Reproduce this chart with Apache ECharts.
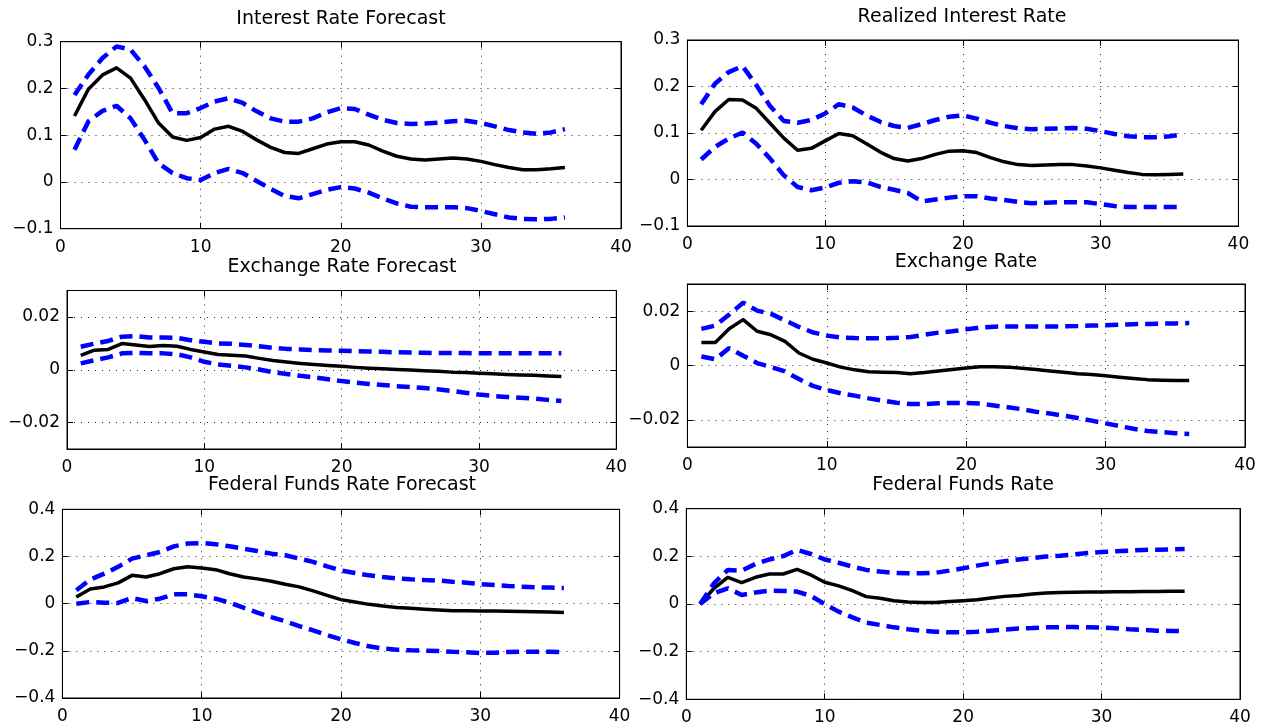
<!DOCTYPE html>
<html>
<head>
<meta charset="utf-8">
<script src="https://cdn.jsdelivr.net/npm/echarts@6/dist/echarts.min.js"></script>
<style>
html,body{margin:0;padding:0;background:#fff;}
#chart{width:1273px;height:728px;}
</style>
</head>
<body>
<div id="chart"></div>
<script>
// ---- data ----
const horizon = [1,2,3,4,5,6,7,8,9,10,11,12,13,14,15,16,17,18,19,20,21,22,23,24,25,26,27,28,29,30,31,32,33,34,35,36];

const titles = ["Interest Rate Forecast","Realized Interest Rate","Exchange Rate Forecast","Exchange Rate","Federal Funds Rate Forecast","Federal Funds Rate"];

const irfMean = [0.141,0.199,0.229,0.244,0.222,0.176,0.126,0.096,0.089,0.095,0.113,0.119,0.108,0.090,0.074,0.063,0.061,0.071,0.081,0.086,0.086,0.079,0.066,0.055,0.049,0.047,0.049,0.051,0.049,0.044,0.037,0.031,0.026,0.026,0.028,0.031];
const irfUp   = [0.186,0.230,0.265,0.290,0.283,0.247,0.201,0.147,0.147,0.158,0.172,0.179,0.169,0.151,0.136,0.129,0.129,0.136,0.149,0.158,0.156,0.144,0.133,0.126,0.124,0.125,0.127,0.130,0.131,0.126,0.119,0.111,0.106,0.103,0.106,0.113];
const irfLo   = [0.069,0.130,0.152,0.163,0.136,0.090,0.040,0.019,0.008,0.004,0.019,0.028,0.019,0.002,-0.015,-0.030,-0.035,-0.026,-0.017,-0.011,-0.014,-0.023,-0.035,-0.046,-0.053,-0.054,-0.054,-0.054,-0.056,-0.062,-0.069,-0.076,-0.079,-0.080,-0.079,-0.076];

const rirMean = [0.106,0.146,0.172,0.171,0.153,0.121,0.089,0.063,0.067,0.083,0.099,0.094,0.077,0.059,0.045,0.040,0.045,0.054,0.061,0.062,0.058,0.047,0.038,0.032,0.030,0.031,0.032,0.032,0.029,0.025,0.020,0.015,0.011,0.010,0.011,0.012];
const rirUp   = [0.162,0.206,0.231,0.244,0.203,0.158,0.126,0.122,0.128,0.142,0.162,0.155,0.138,0.124,0.115,0.111,0.119,0.128,0.135,0.138,0.131,0.122,0.115,0.110,0.108,0.109,0.110,0.111,0.109,0.104,0.098,0.093,0.091,0.091,0.093,0.097];
const rirLo   = [0.043,0.070,0.088,0.101,0.077,0.045,0.009,-0.016,-0.023,-0.017,-0.007,-0.004,-0.006,-0.016,-0.022,-0.029,-0.047,-0.043,-0.039,-0.036,-0.036,-0.041,-0.044,-0.048,-0.051,-0.050,-0.049,-0.049,-0.049,-0.053,-0.057,-0.059,-0.059,-0.059,-0.059,-0.059];

const erfMean = [0.0054,0.0074,0.0077,0.0099,0.0094,0.0088,0.0092,0.0089,0.0077,0.0067,0.0058,0.0055,0.0052,0.0043,0.0035,0.0029,0.0024,0.0020,0.0016,0.0013,0.0009,0.0006,0.0004,0.0001,-0.0001,-0.0004,-0.0006,-0.0009,-0.0010,-0.0013,-0.0015,-0.0018,-0.0020,-0.0021,-0.0024,-0.0026];
const erfUp   = [0.0087,0.0099,0.0109,0.0125,0.0127,0.0122,0.0122,0.0121,0.0112,0.0106,0.0099,0.0098,0.0094,0.0089,0.0083,0.0079,0.0077,0.0074,0.0073,0.0072,0.0070,0.0069,0.0068,0.0066,0.0065,0.0064,0.0063,0.0063,0.0063,0.0062,0.0062,0.0062,0.0062,0.0062,0.0062,0.0062];
const erfLo   = [0.0024,0.0036,0.0047,0.0062,0.0064,0.0062,0.0062,0.0059,0.0047,0.0030,0.0020,0.0015,0.0009,0.0001,-0.0009,-0.0016,-0.0023,-0.0029,-0.0036,-0.0043,-0.0049,-0.0054,-0.0058,-0.0062,-0.0065,-0.0069,-0.0074,-0.0080,-0.0087,-0.0094,-0.0099,-0.0103,-0.0106,-0.0109,-0.0114,-0.0118];

const erMean = [0.0085,0.0085,0.0135,0.0169,0.0126,0.0113,0.0089,0.0046,0.0023,0.0009,-0.0006,-0.0016,-0.0023,-0.0025,-0.0026,-0.0030,-0.0026,-0.0020,-0.0015,-0.0009,-0.0005,-0.0005,-0.0006,-0.0010,-0.0015,-0.0020,-0.0025,-0.0030,-0.0033,-0.0038,-0.0043,-0.0048,-0.0052,-0.0054,-0.0055,-0.0055];
const erUp   = [0.0135,0.0147,0.0188,0.0231,0.0202,0.0190,0.0166,0.0142,0.0122,0.0110,0.0103,0.0101,0.0100,0.0100,0.0102,0.0105,0.0113,0.0121,0.0126,0.0133,0.0140,0.0143,0.0144,0.0144,0.0144,0.0144,0.0144,0.0145,0.0147,0.0148,0.0150,0.0152,0.0153,0.0154,0.0155,0.0156];
const erLo   = [0.0033,0.0023,0.0064,0.0036,0.0009,-0.0006,-0.0022,-0.0050,-0.0075,-0.0090,-0.0102,-0.0111,-0.0121,-0.0129,-0.0137,-0.0142,-0.0142,-0.0139,-0.0138,-0.0138,-0.0140,-0.0147,-0.0154,-0.0161,-0.0170,-0.0177,-0.0185,-0.0193,-0.0203,-0.0213,-0.0223,-0.0233,-0.0241,-0.0245,-0.0249,-0.0252];

const ffrfMean = [0.028,0.062,0.071,0.088,0.120,0.113,0.127,0.148,0.156,0.151,0.144,0.127,0.113,0.105,0.095,0.082,0.071,0.054,0.035,0.017,0.007,-0.003,-0.010,-0.016,-0.020,-0.024,-0.027,-0.030,-0.030,-0.031,-0.031,-0.032,-0.033,-0.034,-0.035,-0.037];
const ffrfUp   = [0.057,0.102,0.127,0.156,0.191,0.205,0.219,0.243,0.255,0.257,0.252,0.243,0.233,0.223,0.212,0.205,0.191,0.177,0.158,0.141,0.130,0.120,0.113,0.107,0.103,0.100,0.098,0.093,0.089,0.083,0.079,0.075,0.072,0.069,0.068,0.066];
const ffrfLo   = [0.000,0.007,0.004,0.003,0.024,0.011,0.021,0.040,0.040,0.031,0.021,0.004,-0.017,-0.038,-0.057,-0.075,-0.095,-0.113,-0.133,-0.151,-0.167,-0.181,-0.190,-0.195,-0.198,-0.199,-0.201,-0.204,-0.206,-0.209,-0.208,-0.205,-0.204,-0.204,-0.204,-0.205];

const ffrMean = [0.000,0.066,0.112,0.090,0.112,0.126,0.126,0.145,0.122,0.091,0.076,0.056,0.031,0.024,0.014,0.008,0.006,0.006,0.010,0.014,0.018,0.025,0.032,0.036,0.042,0.046,0.048,0.049,0.050,0.050,0.051,0.051,0.052,0.052,0.053,0.053];
const ffrUp   = [0.000,0.087,0.143,0.140,0.168,0.187,0.201,0.227,0.210,0.187,0.173,0.157,0.143,0.136,0.131,0.129,0.129,0.131,0.140,0.150,0.161,0.171,0.180,0.187,0.193,0.199,0.203,0.208,0.214,0.218,0.221,0.224,0.227,0.228,0.229,0.231];
const ffrLo   = [0.000,0.045,0.066,0.038,0.048,0.056,0.055,0.052,0.034,0.000,-0.032,-0.056,-0.078,-0.088,-0.098,-0.106,-0.112,-0.116,-0.119,-0.119,-0.116,-0.112,-0.108,-0.103,-0.101,-0.098,-0.097,-0.097,-0.098,-0.099,-0.102,-0.106,-0.109,-0.112,-0.113,-0.113];

// y-axis ranges per panel: [min, max, tick step]
const yRanges = [[-0.1,0.3,0.1],[-0.1,0.3,0.1],[-0.03,0.03,0.02],[-0.03,0.03,0.02],[-0.4,0.4,0.2],[-0.4,0.4,0.2]];
const xRange = [0, 40, 10];

// ---- layout ----
const panels = [
  {mean: irfMean, up: irfUp, lo: irfLo, box: [60.5, 41.7, 560.5, 187], title: [341, 18.5]},
  {mean: rirMean, up: rirUp, lo: rirLo, box: [687.4, 40, 551, 186], title: [962, 16.3]},
  {mean: erfMean, up: erfUp, lo: erfLo, box: [67, 290.5, 549.3, 158.5], title: [342, 267]},
  {mean: erMean, up: erUp, lo: erLo, box: [687.4, 284, 557.6, 163], title: [966, 261.7]},
  {mean: ffrfMean, up: ffrfUp, lo: ffrfLo, box: [62.4, 509.3, 557.2, 188.7], title: [342, 485]},
  {mean: ffrMean, up: ffrUp, lo: ffrLo, box: [686.3, 508.7, 553.7, 190.6], title: [963, 485]}
];

const FONT = "'DejaVu Sans', 'Liberation Sans', Arial, sans-serif";
function fmt(v) {
  const a = Number(Math.abs(v).toFixed(6));
  if (a === 0) return '0';
  return (v < 0 ? '\u2212' : '') + String(a);
}
const dotted = {show: true, lineStyle: {color: '#000', width: 1, type: [1, 6], opacity: 0.85}};
const tickIn = {show: true, inside: true, length: 6, lineStyle: {color: '#000', width: 1}};
const axLine = {show: true, onZero: false, lineStyle: {color: '#000', width: 1}};

const grid = [], xAxis = [], yAxis = [], series = [], title = [];
panels.forEach((p, i) => {
  const [l, t, w, h] = p.box;
  grid.push({left: l, top: t, width: w, height: h, show: true, borderColor: '#000', borderWidth: 1, backgroundColor: '#fff', containLabel: false});
  title.push({text: titles[i], left: p.title[0], top: p.title[1] - 9, textAlign: 'center', padding: 0,
    textStyle: {fontFamily: FONT, fontSize: 19, fontWeight: 'normal', color: '#000'}});
  xAxis.push({type: 'value', gridIndex: i, min: xRange[0], max: xRange[1], interval: xRange[2], position: 'bottom',
    axisLine: axLine, axisTick: tickIn, splitLine: dotted,
    axisLabel: {show: true, margin: 10, fontFamily: FONT, fontSize: 17, color: '#000', formatter: fmt}});
  xAxis.push({type: 'value', gridIndex: i, min: xRange[0], max: xRange[1], interval: xRange[2], position: 'top',
    axisLine: axLine, axisTick: tickIn, splitLine: {show: false}, axisLabel: {show: false}});
  const [ymin, ymax, ystep] = yRanges[i];
  const fixedFromMin = Math.abs(Math.round(ymin / ystep) * ystep - ymin) < 1e-9;
  const yBase = {type: 'value', gridIndex: i, min: ymin, max: ymax};
  if (fixedFromMin) { yBase.interval = ystep; } else { yBase.splitNumber = 3; yBase.minInterval = ystep; yBase.maxInterval = ystep; }
  yAxis.push(Object.assign({}, yBase, {position: 'left', axisLine: axLine, axisTick: tickIn, splitLine: dotted,
    axisLabel: {show: true, margin: 7, fontFamily: FONT, fontSize: 17, color: '#000', formatter: fmt, showMinLabel: fixedFromMin, showMaxLabel: fixedFromMin}}));
  yAxis.push(Object.assign({}, yBase, {position: 'right', axisLine: axLine, axisTick: tickIn, splitLine: {show: false}, axisLabel: {show: false}}));

  const xi = 2 * i, yi = 2 * i;
  series.push({type: 'line', xAxisIndex: xi, yAxisIndex: yi, data: horizon.map((x, k) => [x, p.mean[k]]),
    symbol: 'none', silent: true, lineStyle: {color: '#000', width: 3.5, type: 'solid', join: 'round'}, z: 3});
  series.push({type: 'line', xAxisIndex: xi, yAxisIndex: yi, data: horizon.map((x, k) => [x, p.up[k]]),
    symbol: 'none', silent: true, lineStyle: {color: '#0000ff', width: 4.5, type: [13, 7]}, z: 4});
  series.push({type: 'line', xAxisIndex: xi, yAxisIndex: yi, data: horizon.map((x, k) => [x, p.lo[k]]),
    symbol: 'none', silent: true, lineStyle: {color: '#0000ff', width: 4.5, type: [13, 7]}, z: 4});
});

const chart = echarts.init(document.getElementById('chart'), null, {renderer: 'canvas'});
chart.setOption({backgroundColor: '#fff', animation: false, title, grid, xAxis, yAxis, series});
</script>
</body>
</html>
